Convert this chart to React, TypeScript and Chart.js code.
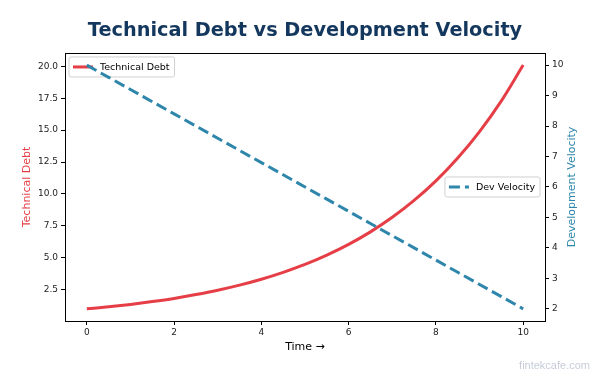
import { useEffect, useRef } from "react";
import { Chart, registerables } from "chart.js";

Chart.register(...registerables);

const timePoints = [0, 0.5, 1, 1.5, 2, 2.5, 3, 3.5, 4, 4.5, 5, 5.5, 6, 6.5, 7, 7.5, 8, 8.5, 9, 9.5, 10];
const techDebt = [1.0, 1.16, 1.35, 1.57, 1.82, 2.12, 2.46, 2.86, 3.32, 3.86, 4.48, 5.21, 6.05, 7.03, 8.17, 9.49, 11.02, 12.81, 14.88, 17.29, 20.09];
const devVelocity = [10, 9.6, 9.2, 8.8, 8.4, 8.0, 7.6, 7.2, 6.8, 6.4, 6.0, 5.6, 5.2, 4.8, 4.4, 4.0, 3.6, 3.2, 2.8, 2.4, 2.0];

const xTicks = [0, 2, 4, 6, 8, 10];
const debtTicks = [2.5, 5, 7.5, 10, 12.5, 15, 17.5, 20];
const velocityTicks = [2, 3, 4, 5, 6, 7, 8, 9, 10];
const xRange = [-0.5, 10.5];
const debtRange = [0.05, 21.04];
const velocityRange = [1.6, 10.4];

const RED = "#e63e46";
const BLUE = "#2e86ab";
const NAVY = "#14375e";
const FONT = "'DejaVu Sans', sans-serif";

function drawLegendBox(
  ctx: CanvasRenderingContext2D,
  x: number,
  yCenter: number,
  anchorRight: boolean,
  color: string,
  dash: number[],
  label: string
) {
  ctx.save();
  ctx.font = `9.5px ${FONT}`;
  const tw = ctx.measureText(label).width;
  const w = tw + 36;
  const h = 20;
  const left = anchorRight ? x - w : x;
  const top = yCenter - h / 2;
  const r = 2;
  ctx.beginPath();
  ctx.moveTo(left + r, top);
  ctx.lineTo(left + w - r, top);
  ctx.quadraticCurveTo(left + w, top, left + w, top + r);
  ctx.lineTo(left + w, top + h - r);
  ctx.quadraticCurveTo(left + w, top + h, left + w - r, top + h);
  ctx.lineTo(left + r, top + h);
  ctx.quadraticCurveTo(left, top + h, left, top + h - r);
  ctx.lineTo(left, top + r);
  ctx.quadraticCurveTo(left, top, left + r, top);
  ctx.closePath();
  ctx.fillStyle = "rgba(255,255,255,0.8)";
  ctx.fill();
  ctx.strokeStyle = "#d0d0d0";
  ctx.lineWidth = 1;
  ctx.stroke();
  ctx.beginPath();
  ctx.setLineDash(dash);
  ctx.strokeStyle = color;
  ctx.lineWidth = 3;
  ctx.moveTo(left + 4, yCenter);
  ctx.lineTo(left + 24, yCenter);
  ctx.stroke();
  ctx.setLineDash([]);
  ctx.fillStyle = "#000";
  ctx.textBaseline = "middle";
  ctx.textAlign = "left";
  ctx.fillText(label, left + 31, yCenter + 0.5);
  ctx.restore();
}

const decorPlugin = {
  id: "decor",
  beforeDatasetDraw(chart: any, args: any) {
    if (args.meta.yAxisID === "yVel") {
      const { left, top } = chart.chartArea;
      drawLegendBox(chart.ctx, left + 4, top + 14, false, RED, [], chart.data.datasets[0].label);
    }
  },
  afterDraw(chart: any) {
    const ctx = chart.ctx as CanvasRenderingContext2D;
    const { left, top, right, bottom } = chart.chartArea;
    drawLegendBox(ctx, right - 5, (top + bottom) / 2, true, BLUE, [11, 5], chart.data.datasets[1].label);
    ctx.save();
    ctx.strokeStyle = "#000";
    ctx.lineWidth = 1;
    ctx.strokeRect(Math.round(left) + 0.5, Math.round(top) + 0.5, Math.round(right - left), Math.round(bottom - top));
    // right axis title, reading bottom-to-top
    ctx.save();
    ctx.translate(572, (top + bottom) / 2);
    ctx.rotate(-Math.PI / 2);
    ctx.font = `11px ${FONT}`;
    ctx.fillStyle = BLUE;
    ctx.textAlign = "center";
    ctx.textBaseline = "middle";
    ctx.fillText("Development Velocity", 0, 0);
    ctx.restore();
    ctx.font = `11px 'Liberation Sans', Arial, sans-serif`;
    ctx.fillStyle = "rgb(198,204,216)";
    ctx.textAlign = "right";
    ctx.textBaseline = "middle";
    ctx.fillText("fintekcafe.com", 590, 366);
    ctx.restore();
  },
};

export default function App() {
  const ref = useRef<HTMLCanvasElement | null>(null);
  useEffect(() => {
    document.body.style.margin = "0";
    if (!ref.current) return;
    const tickFont = { family: FONT, size: 9 };
    const grid = {
      drawOnChartArea: false,
      drawTicks: true,
      tickLength: 4,
      color: "#000",
      tickColor: "#000",
    };
    const chart = new Chart(ref.current, {
      type: "line",
      data: {
        datasets: [
          {
            label: "Technical Debt",
            data: timePoints.map((t, i) => ({ x: t, y: techDebt[i] })),
            borderColor: RED,
            backgroundColor: RED,
            borderWidth: 3,
            pointRadius: 0,
            cubicInterpolationMode: "monotone",
            yAxisID: "yDebt",
            order: 2,
          },
          {
            label: "Dev Velocity",
            data: timePoints.map((t, i) => ({ x: t, y: devVelocity[i] })),
            borderColor: BLUE,
            backgroundColor: BLUE,
            borderWidth: 3,
            borderDash: [11, 5],
            pointRadius: 0,
            tension: 0,
            yAxisID: "yVel",
            order: 1,
          },
        ],
      },
      options: {
        animation: false,
        responsive: true,
        maintainAspectRatio: false,
        events: [],
        layout: { padding: 0 },
        plugins: {
          legend: { display: false },
          tooltip: { enabled: false },
          title: {
            display: true,
            text: "Technical Debt vs Development Velocity",
            color: NAVY,
            fullSize: false,
            font: { family: FONT, size: 19.3, weight: "bold" },
            padding: { top: 19.4, bottom: 10.4 },
          },
        },
        scales: {
          x: {
            type: "linear",
            min: xRange[0],
            max: xRange[1],
            grid,
            border: { display: false },
            afterBuildTicks: (s: any) => {
              s.ticks = xTicks.map((v) => ({ value: v }));
            },
            afterFit: (s: any) => {
              s.height = 55;
            },
            ticks: { font: tickFont, color: "#222", padding: 2, maxRotation: 0, callback: (v: any) => String(v) },
            title: {
              display: true,
              text: "Time →",
              color: "#000",
              font: { family: FONT, size: 11 },
              padding: { top: 0, bottom: 22 },
            },
          },
          yDebt: {
            type: "linear",
            position: "left",
            min: debtRange[0],
            max: debtRange[1],
            grid,
            border: { display: false },
            afterBuildTicks: (s: any) => {
              s.ticks = debtTicks.map((v) => ({ value: v }));
            },
            afterFit: (s: any) => {
              s.width = 65;
            },
            ticks: { font: tickFont, color: "#222", padding: 3, callback: (v: any) => Number(v).toFixed(1) },
            title: {
              display: true,
              text: "Technical Debt",
              color: RED,
              font: { family: FONT, size: 11 },
              padding: { top: 21, bottom: 0 },
            },
          },
          yVel: {
            type: "linear",
            position: "right",
            min: velocityRange[0],
            max: velocityRange[1],
            grid,
            border: { display: false },
            afterBuildTicks: (s: any) => {
              s.ticks = velocityTicks.map((v) => ({ value: v }));
            },
            afterFit: (s: any) => {
              s.width = 55;
            },
            ticks: { font: tickFont, color: "#222", padding: 3, callback: (v: any) => String(v) },
            title: { display: false },
          },
        },
      },
      plugins: [decorPlugin],
    } as any);
    return () => chart.destroy();
  }, []);
  return (
    <div style={{ position: "relative", width: 600, height: 376 }}>
      <canvas ref={ref} />
    </div>
  );
}
